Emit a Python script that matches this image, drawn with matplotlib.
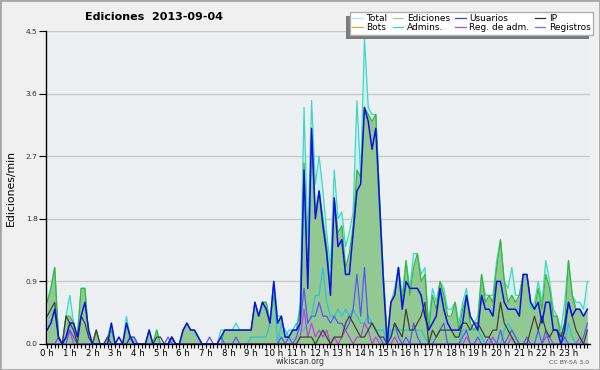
import numpy as np
import matplotlib
matplotlib.use("Agg")
import matplotlib.pyplot as plt
from matplotlib.lines import Line2D
from matplotlib.patches import Rectangle, Shadow
from matplotlib.ticker import MultipleLocator

# ---- data: edits per minute, 10-minute bins (144 per day) ----
total = [
    .6, .8, 1.1, .1, 0, .4, .7, .3, .1, .8,
    .8, .1, 0, .2, 0, 0, .1, .3, 0, 0,
    0, .4, .1, .1, 0, 0, 0, .2, 0, .2,
    0, 0, 0, .1, 0, 0, .2, .3, .2, .2,
    .1, 0, 0, 0, 0, 0, .2, .2, .2, .2,
    .3, .2, .2, .2, .2, .6, .4, .6, .6, .3,
    .9, .4, .4, .1, .2, .2, .2, .6, 3.4, 1.5,
    3.5, 2.3, 2.7, 2.2, 1.6, 1.1, 2.5, 1.8, 1.9, 1.4,
    1.6, 1.9, 3.5, 2.4, 4.4, 3.4, 3.3, 3.3, 2.1, 1.0,
    .1, .6, .8, 1.1, .7, 1.2, .8, 1.3, 1.3, 1.0,
    1.1, .3, .8, .6, .9, .8, .5, .5, .6, .3,
    .6, .8, .4, .3, .4, 1.0, .7, .7, .7, 1.2,
    1.5, .9, .8, 1.1, .7, .7, 1.0, 1.0, .5, .6,
    .9, .6, 1.2, .9, .5, .4, .2, .6, 1.2, .7,
    .6, .6, .5, .9,
]
ediciones = [
    .6, .8, 1.1, .1, 0, .4, .4, .3, .1, .8,
    .8, .1, 0, .2, 0, 0, .1, .2, 0, 0,
    0, .3, .1, .1, 0, 0, 0, .2, 0, .2,
    0, 0, 0, .1, 0, 0, .2, .3, .2, .2,
    .1, 0, 0, 0, 0, 0, 0, .2, .2, .2,
    .2, .2, .2, .2, .2, .6, .4, .6, .6, .3,
    .7, .3, .4, .1, .1, .2, .2, .5, 2.6, 1.0,
    3.0, 1.9, 2.2, 1.8, 1.4, .8, 2.1, 1.6, 1.7, 1.1,
    1.3, 1.7, 2.5, 2.4, 3.4, 3.3, 3.2, 3.3, 2.1, 1.0,
    .1, .6, .7, 1.1, .6, 1.2, .7, 1.1, 1.3, .9,
    1.0, .2, .7, .5, .9, .7, .4, .4, .6, .2,
    .5, .7, .3, .2, .3, 1.0, .6, .7, .6, 1.1,
    1.5, .9, .6, .7, .6, .7, 1.0, 1.0, .6, .5,
    .8, .5, 1.0, .8, .4, .4, .1, .3, 1.2, .7,
    .5, .5, .4, .5,
]
usuarios = [
    .2, .3, .5, .1, 0, .1, .3, .3, .1, .4,
    .6, .2, 0, 0, 0, 0, 0, .3, 0, .1,
    0, .3, .1, 0, 0, 0, 0, .2, 0, 0,
    0, 0, 0, .1, 0, 0, .2, .3, .2, .2,
    .1, 0, 0, 0, 0, 0, .1, .2, .2, .2,
    .2, .2, .2, .2, .2, .6, .4, .6, .5, .3,
    .9, .3, .4, .1, .1, .2, .2, .3, 2.5, .8,
    3.1, 1.8, 2.2, 1.7, 1.3, .7, 2.1, 1.4, 1.5, 1.0,
    1.0, 1.6, 2.2, 2.3, 3.4, 3.2, 2.8, 3.1, 2.0, .9,
    0, .6, .7, 1.1, .5, .9, .8, .8, .8, .7,
    .4, .2, .3, .4, .8, .5, .3, .2, .2, .2,
    .3, .7, .4, .3, .2, .7, .5, .5, .4, .9,
    .9, .6, .5, .5, .5, .4, 1.0, 1.0, .6, .5,
    .6, .3, .6, .6, .2, .2, 0, .2, .6, .4,
    .5, .5, .4, .5,
]
ip = [
    .4, .5, .6, .1, 0, .4, .3, .2, 0, .4,
    .3, .1, 0, .2, 0, 0, .1, 0, 0, 0,
    0, 0, .1, 0, 0, 0, 0, 0, 0, .1,
    .1, 0, 0, .1, 0, 0, 0, 0, 0, 0,
    0, 0, 0, 0, 0, 0, 0, 0, 0, 0,
    0, 0, 0, 0, 0, 0, 0, 0, 0, 0,
    0, 0, 0, 0, 0, 0, 0, .1, .1, .1,
    .1, 0, .1, .2, .1, 0, .1, .1, .1, .3,
    .4, .3, .2, .1, .1, .2, .3, .2, .1, .1,
    0, .1, .3, .2, .1, .5, .2, .2, .3, .4,
    .6, 0, .2, .1, .2, .2, .2, .2, .1, .1,
    .3, .3, .2, .3, .3, .2, .1, .1, .2, .2,
    .6, .3, .2, .1, 0, 0, 0, 0, .2, .4,
    .2, .4, .2, .1, .2, .2, .1, .3, .6, .4,
    .2, .1, 0, .2,
]
bots = [0] * 144
admins = [
    0, 0, 0, 0, 0, 0, 0, 0, 0, 0,
    0, 0, 0, 0, 0, 0, 0, 0, 0, 0,
    0, 0, 0, 0, 0, 0, 0, 0, 0, 0,
    0, 0, 0, 0, 0, 0, 0, 0, 0, 0,
    0, 0, 0, 0, 0, 0, 0, 0, 0, 0,
    0, 0, 0, 0, .1, .1, .1, .1, .1, .3,
    .9, 0, .3, .2, .1, .2, .3, .2, .2, .3,
    .4, .7, .7, 1.1, .6, .4, .4, .5, .4, .5,
    .4, .5, .4, .3, .3, .4, .3, .2, .2, .2,
    0, .2, .2, .2, .2, .2, .2, .2, .2, .2,
    .1, 0, 0, 0, 0, 0, 0, 0, 0, 0,
    .2, .2, .2, .2, .2, .1, 0, 0, 0, 0,
    0, .2, .3, .2, .1, 0, 0, 0, 0, 0,
    0, 0, 0, 0, 0, 0, 0, 0, .3, .1,
    0, 0, 0, 0,
]
reg_adm = [
    0, 0, 0, 0, 0, .1, .2, 0, 0, 0,
    0, 0, 0, 0, 0, 0, 0, 0, 0, 0,
    0, 0, 0, 0, 0, 0, 0, 0, 0, 0,
    0, 0, 0, 0, 0, 0, 0, 0, 0, 0,
    0, 0, 0, 0, 0, 0, 0, 0, 0, 0,
    0, 0, 0, 0, 0, 0, 0, 0, 0, 0,
    0, 0, 0, 0, 0, 0, 0, .1, .5, .1,
    .3, .1, .2, .1, .2, 0, .1, 0, .1, .2,
    .1, 0, .1, .1, .3, .2, 0, .1, 0, 0,
    0, 0, .1, 0, 0, 0, 0, 0, 0, 0,
    0, 0, 0, 0, 0, 0, 0, 0, 0, 0,
    0, .1, 0, 0, 0, 0, 0, 0, .1, 0,
    0, 0, 0, .1, 0, 0, 0, 0, 0, 0,
    0, 0, .1, .1, 0, 0, 0, 0, 0, 0,
    0, .1, 0, 0,
]
registros = [
    0, 0, 0, .1, 0, 0, .2, .1, 0, 0,
    0, 0, 0, 0, 0, 0, 0, 0, 0, 0,
    0, 0, .1, .1, 0, 0, 0, 0, 0, 0,
    0, 0, .1, 0, 0, 0, 0, 0, 0, 0,
    0, 0, 0, .1, 0, 0, .1, 0, 0, 0,
    .1, 0, 0, 0, 0, 0, 0, 0, 0, 0,
    0, 0, .1, 0, .1, 0, .1, .3, .8, .3,
    .4, .4, .6, .4, .4, .3, .4, .3, .3, .2,
    .3, .5, 1.0, .4, 1.1, .3, .3, .2, .1, 0,
    0, .1, .3, .1, 0, .1, 0, .3, .1, 0,
    0, 0, 0, .1, .2, .3, 0, 0, 0, 0,
    .1, .2, 0, 0, .1, 0, 0, .1, 0, 0,
    .2, 0, .1, .2, .1, 0, 0, .1, 0, 0,
    .2, 0, .2, 0, 0, 0, 0, .1, 0, 0,
    0, 0, .1, .3,
]
hour_labels = [f"{h} h" for h in range(24)]
y_ticks = [0.0, 0.9, 1.8, 2.7, 3.6, 4.5]
title_text = "Ediciones  2013-09-04"
legend_labels = ["Total", "Ediciones", "Usuarios", "IP",
                 "Bots", "Admins.", "Reg. de adm.", "Registros"]

for s in (total, ediciones, usuarios, ip, bots, admins, reg_adm, registros):
    assert len(s) == 144

hours = np.arange(144) / 6.0

# ---- figure ----
W, H = 600, 370
fig = plt.figure(figsize=(W / 100, H / 100), dpi=100, facecolor="#f0f0f0")
ax = fig.add_axes([46 / W, 1 - 344 / H, 544 / W, 313 / H])
ax.set_facecolor("#edf0f2")
ax.set_xlim(-0.05, 23.95)
ax.set_ylim(0, 4.5)

ax.fill_between(hours, total, color="#cdf1ea", lw=0, zorder=1)
ax.fill_between(hours, ediciones, color="#92c992", lw=0, zorder=2)
ax.plot(hours, total, color="#3fd8c6", lw=0.9, zorder=3)
ax.plot(hours, ediciones, color="#3cb43c", lw=0.9, zorder=3)
ax.plot(hours, bots, color="#f0a040", lw=0.8, zorder=3.5)
ax.plot(hours, admins, color="#2ec0e0", lw=0.9, zorder=4)
ax.plot(hours, reg_adm, color="#c040e0", lw=0.9, zorder=4)
ax.plot(hours, registros, color="#5858f0", lw=0.9, zorder=4)
ax.plot(hours, ip, color="#404040", lw=0.9, zorder=4.2)
ax.plot(hours, usuarios, color="#1010e0", lw=1.1, zorder=5)

# axes styling
for side in ("top", "right"):
    ax.spines[side].set_visible(False)
for side in ("left", "bottom"):
    ax.spines[side].set_color("black")
    ax.spines[side].set_linewidth(1)
    ax.spines[side].set_zorder(6)

ax.set_xticks(range(24))
ax.set_xticklabels(hour_labels)
ax.xaxis.set_minor_locator(MultipleLocator(1 / 6))
ax.tick_params(axis="x", which="both", direction="out", length=3, width=0.8,
               pad=0.5, labelsize=6.2, colors="black")
ax.set_yticks(y_ticks)
ax.set_yticklabels([f"{v:.1f}" for v in y_ticks])
ax.tick_params(axis="y", direction="out", length=5, width=0.8, pad=1,
               labelsize=5.4, labelcolor="#333333")
ax.grid(axis="y", color="#c8c8c8", lw=1)
ax.set_axisbelow(True)

# texts
fig.text(154 / W, 1 - 17 / H, title_text, ha="center", va="center",
         fontsize=8, fontweight="bold")
fig.text(10.5 / W, 1 - 188 / H, "Ediciones/min", rotation=90,
         ha="center", va="center", fontsize=7.8)
fig.text(300 / W, 1 - 361 / H, "wikiscan.org", ha="center", va="center",
         fontsize=5.6, color="#333333")
fig.text(589 / W, 1 - 362 / H, "CC BY-SA 3.0", ha="right", va="center",
         fontsize=4.5, color="#555555")

# legend (matplotlib fills columns first, so interleave rows)
leg_colors = ["#b0ecec", "#90d890", "#4040d8", "#303030",
              "#f0a040", "#40c8e0", "#c040e0", "#7070f0"]
handles = [Line2D([], [], color=c, lw=0.9) for c in leg_colors]
order = [0, 4, 1, 5, 2, 6, 3, 7]
leg = fig.legend([handles[i] for i in order], [legend_labels[i] for i in order],
                 ncol=4, loc="upper right", bbox_to_anchor=(593 / W, 1 - 12 / H),
                 fontsize=6.5, frameon=True, fancybox=False, edgecolor="#b0b0b0",
                 facecolor="white", framealpha=1, handlelength=1.15,
                 handletextpad=0.4, columnspacing=0.6, labelspacing=0.0,
                 borderpad=0.25, borderaxespad=0)
leg.set_zorder(10)
leg.get_frame().set_linewidth(1)

fig.canvas.draw()
shadow = Shadow(leg.legendPatch, -3, -3, facecolor="#7a7a7a",
                edgecolor="none", alpha=1)
shadow.set_zorder(9)
fig.add_artist(shadow)

fig.add_artist(Rectangle((0, 0), 1, 1, transform=fig.transFigure, fill=False,
                         edgecolor="#a8a8a8", lw=2, zorder=20))

fig.savefig("out.png", dpi=100, facecolor=fig.get_facecolor())
